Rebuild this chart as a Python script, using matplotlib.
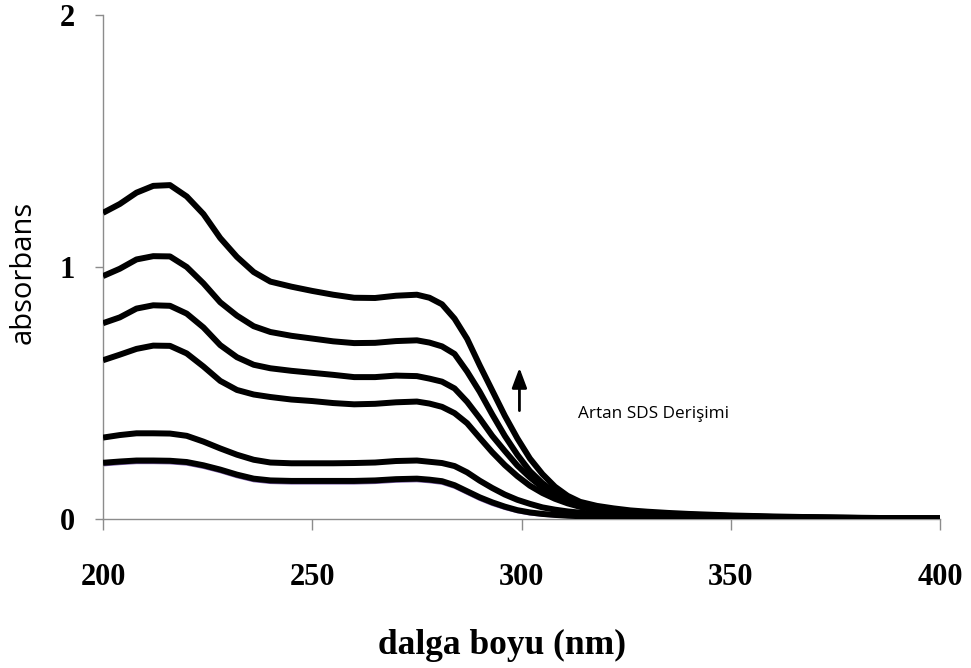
import matplotlib
matplotlib.use("Agg")
import matplotlib.pyplot as plt

wavelength = [200, 204, 208, 212, 216, 220, 224, 228, 232, 236, 240, 245, 250, 255, 260, 265, 270, 275,
              278, 281, 284, 287, 290, 293, 296, 299, 302, 305, 308, 311, 314, 318, 322, 326, 330, 335,
              340, 350, 360, 370, 380, 390, 400]

abs_1 = [1.215, 1.25, 1.295, 1.322, 1.325, 1.28, 1.21, 1.115, 1.04, 0.98, 0.942, 0.922, 0.905, 0.89, 0.878, 0.877, 0.886, 0.89,
         0.878, 0.852, 0.795, 0.715, 0.61, 0.51, 0.41, 0.32, 0.24, 0.178, 0.128, 0.092, 0.068, 0.052, 0.042, 0.034, 0.029, 0.024,
         0.02, 0.014, 0.01, 0.007, 0.005, 0.003, 0.002]
abs_2 = [0.964, 0.993, 1.03, 1.043, 1.042, 1.0, 0.935, 0.86, 0.807, 0.765, 0.742, 0.727, 0.716, 0.705, 0.698, 0.699, 0.706, 0.709,
         0.70, 0.685, 0.655, 0.585, 0.505, 0.415, 0.33, 0.255, 0.19, 0.142, 0.105, 0.078, 0.058, 0.044, 0.035, 0.029, 0.024, 0.02,
         0.017, 0.012, 0.008, 0.006, 0.004, 0.003, 0.002]
abs_3 = [0.777, 0.80, 0.835, 0.848, 0.846, 0.815, 0.76, 0.69, 0.642, 0.612, 0.598, 0.588, 0.58, 0.572, 0.563, 0.563, 0.569, 0.567,
         0.557, 0.545, 0.518, 0.465, 0.40, 0.33, 0.27, 0.212, 0.165, 0.125, 0.097, 0.074, 0.056, 0.041, 0.032, 0.026, 0.022, 0.018,
         0.015, 0.011, 0.007, 0.005, 0.004, 0.003, 0.002]
abs_4 = [0.63, 0.652, 0.675, 0.688, 0.687, 0.657, 0.605, 0.548, 0.512, 0.494, 0.484, 0.474, 0.468, 0.46, 0.455, 0.457, 0.463, 0.466,
         0.458, 0.445, 0.42, 0.38, 0.322, 0.265, 0.214, 0.17, 0.132, 0.103, 0.08, 0.062, 0.048, 0.036, 0.029, 0.024, 0.02, 0.017,
         0.014, 0.01, 0.007, 0.005, 0.003, 0.002, 0.002]
abs_5 = [0.323, 0.333, 0.34, 0.34, 0.339, 0.33, 0.307, 0.28, 0.255, 0.235, 0.224, 0.221, 0.221, 0.221, 0.222, 0.224, 0.23, 0.232,
         0.227, 0.222, 0.21, 0.185, 0.152, 0.123, 0.097, 0.076, 0.06, 0.046, 0.037, 0.03, 0.025, 0.02, 0.017, 0.014, 0.012, 0.01,
         0.009, 0.007, 0.005, 0.004, 0.003, 0.002, 0.001]
abs_6 = [0.223, 0.228, 0.232, 0.232, 0.231, 0.226, 0.213, 0.196, 0.176, 0.16, 0.153, 0.151, 0.151, 0.151, 0.151, 0.153, 0.158, 0.16,
         0.156, 0.15, 0.134, 0.11, 0.086, 0.066, 0.049, 0.035, 0.026, 0.02, 0.016, 0.013, 0.011, 0.009, 0.007, 0.006, 0.005, 0.004,
         0.004, 0.003, 0.002, 0.002, 0.001, 0.001, 0.001]
abs_7 = [0.214, 0.219, 0.223, 0.223, 0.222, 0.217, 0.204, 0.187, 0.167, 0.151, 0.144, 0.142, 0.142, 0.142, 0.142, 0.144, 0.149, 0.151,
         0.147, 0.141, 0.125, 0.101, 0.077, 0.057, 0.041, 0.028, 0.019, 0.014, 0.011, 0.009, 0.007, 0.006, 0.005, 0.004, 0.003, 0.003,
         0.002, 0.002, 0.001, 0.001, 0.001, 0.0, 0.0]

black_series = [abs_1, abs_2, abs_3, abs_4, abs_5, abs_6]

x_ticks = [200, 250, 300, 350, 400]
y_ticks = [0, 1, 2]

fig = plt.figure(figsize=(9.71, 6.68), dpi=100)
ax = fig.add_axes([0.1061, 0.2231, 0.862, 0.7544])

ax.plot(wavelength, abs_7, color="#7b5ea7", lw=2.0, zorder=2, solid_capstyle="butt")
for s in black_series:
    ax.plot(wavelength, s, color="black", lw=4.3, zorder=3, solid_capstyle="butt", solid_joinstyle="round")

ax.set_xlim(200, 400)
ax.set_ylim(0, 2)
ax.set_xticks(x_ticks)
ax.set_yticks(y_ticks)
ax.set_xticklabels([str(t) for t in x_ticks], fontfamily="Liberation Serif", fontweight="bold", fontsize=22)
ax.set_yticklabels([str(t) for t in y_ticks], fontfamily="Liberation Serif", fontweight="bold", fontsize=22)

for sp in ["top", "right"]:
    ax.spines[sp].set_visible(False)
for sp in ["left", "bottom"]:
    ax.spines[sp].set_color("#8c8c8c")
    ax.spines[sp].set_linewidth(1.0)

ax.tick_params(axis="x", direction="out", length=8, width=1, color="#8c8c8c", pad=24)
ax.tick_params(axis="y", direction="out", length=6, width=1, color="#8c8c8c", pad=14)

fig.text(502 / 971, 1 - 645 / 668, "dalga boyu (nm)", fontfamily="Liberation Serif", fontweight="bold",
         fontsize=25.5, ha="center", va="center")
fig.text(23 / 971, 1 - 272 / 668, "absorbans", fontfamily="Open Sans", fontsize=21,
         rotation=90, ha="center", va="center")

ax.annotate("", xy=(299.5, 0.60), xytext=(299.5, 0.43),
            arrowprops=dict(arrowstyle="-|>,head_length=1.2,head_width=0.45", color="black", lw=2.0,
                            shrinkA=0, shrinkB=0))
ax.text(313.5, 0.418, "Artan SDS Derişimi", fontfamily="Open Sans", fontsize=12.3, va="center", ha="left")

fig.savefig("out.png", dpi=100)
